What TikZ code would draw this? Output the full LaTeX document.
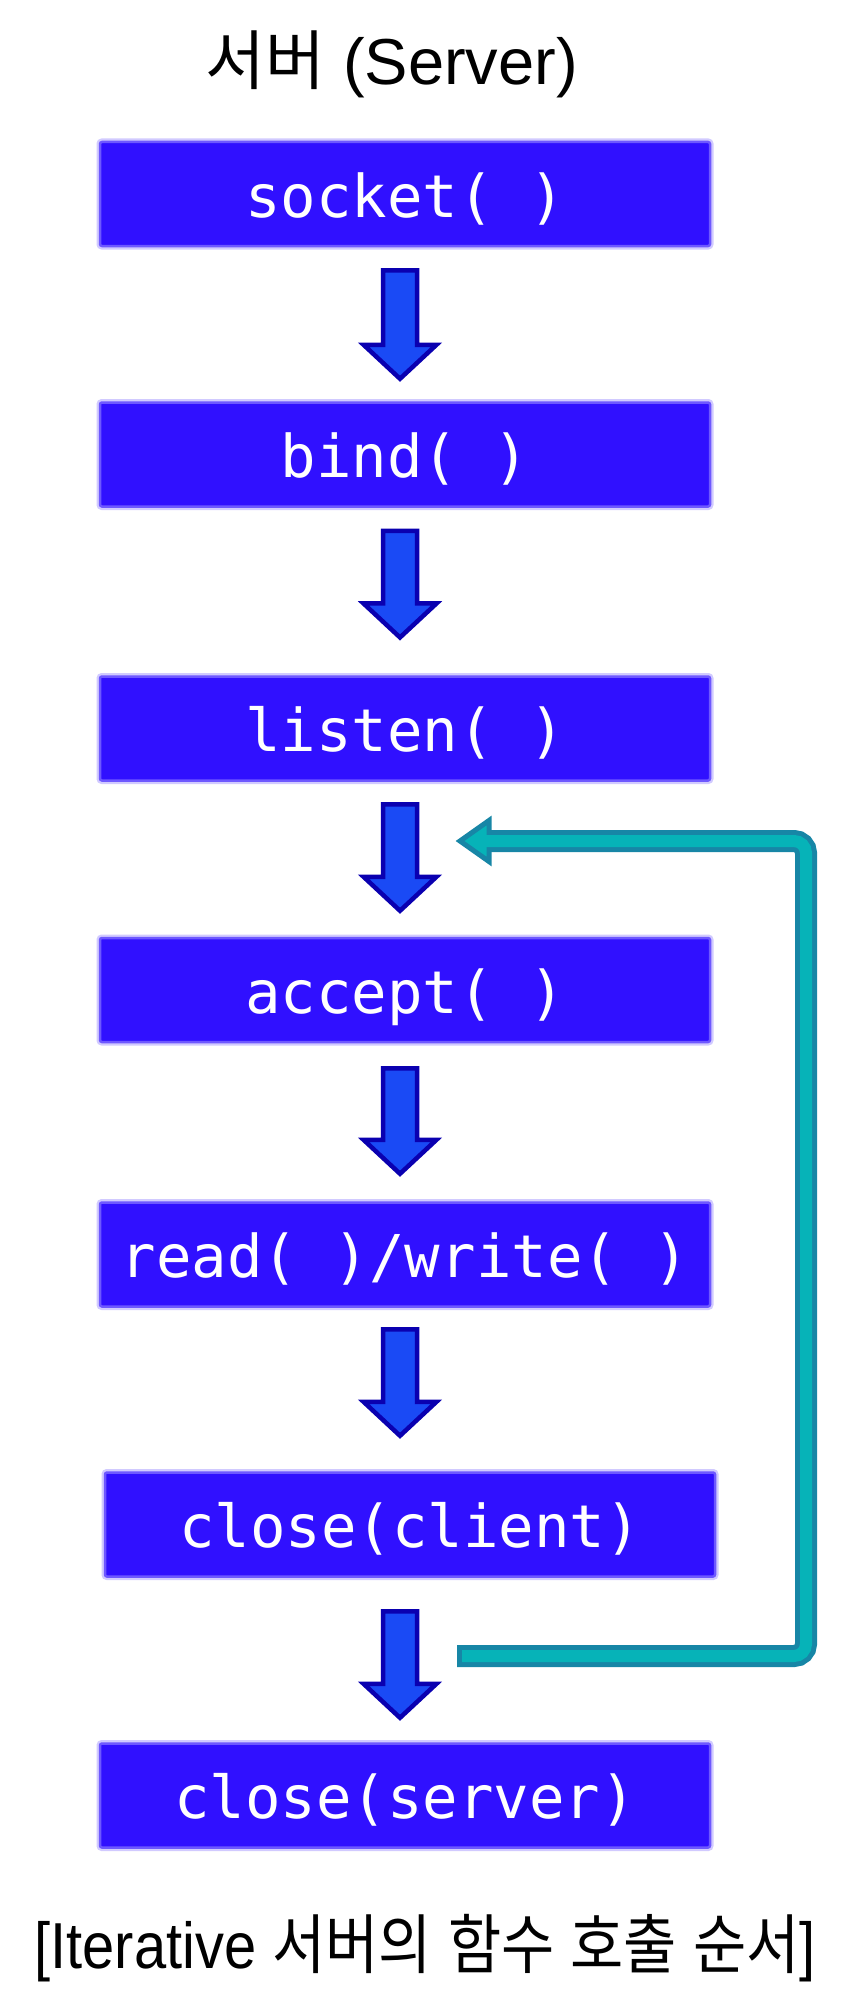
\documentclass[tikz,border=0pt]{standalone}
\usepackage{fontspec}
\usepackage{graphicx}
\setmainfont{Liberation Sans}
\newfontfamily\krfont{Noto Sans CJK KR}
\newfontfamily\codefont{DejaVu Sans Mono}
\usetikzlibrary{calc}
\definecolor{boxc}{HTML}{3010FF}
\definecolor{arrfill}{HTML}{1A4AF5}
\definecolor{arrline}{HTML}{0A00B0}
\definecolor{tealf}{HTML}{06B3B8}
\definecolor{tealb}{HTML}{1786A6}
\newcommand\blkarr[4]{%
  \coordinate (bt) at ($(axis |- #1.south)+(0,#3)$);
  \coordinate (bh) at ($(axis |- #2.north)+(0,-#4)$);
  \draw[blkarrow] ($(bt)+(-17,2)$) -- ($(bt)+(17,2)$) -- ($(bh)+(17,-37)$) -- ($(bh)+(36.5,-37)$) -- ($(bh)+(0,-3)$) -- ($(bh)+(-36.5,-37)$) -- ($(bh)+(-17,-37)$) -- cycle;}
\begin{document}
\begin{tikzpicture}[x=1pt,y=-1pt,
  fnbox/.style={fill=boxc, draw=boxc!70!white, line width=2.5pt,
    preaction={draw=boxc!22!white, line width=7pt},
    rounded corners=2pt, minimum width=610pt, minimum height=104pt,
    inner sep=0pt, text=white, font=\codefont\fontsize{59}{59}\selectfont,
    text height=52pt, text depth=6pt},
  blkarrow/.style={fill=arrfill, draw=arrline, line width=4.5pt, line join=miter},
  ]
\useasboundingbox (0,0) rectangle (865,2012);
\coordinate (axis) at (400,0);
\coordinate (rc) at (806,0);

\node[anchor=base, font=\fontsize{65}{65}\selectfont] (title) at (391.7,85) {{\krfont 서버} (Server)};

\node[fnbox] (s1) at (405,194) {socket(\ )};
\node[fnbox] (s2) at (405,454.5) {bind(\ )};
\node[fnbox] (s3) at (405,728.5) {listen(\ )};
\node[fnbox] (s4) at (405,990) {accept(\ )};
\node[fnbox] (s5) at (405,1254.5) {read(\ )/write(\ )};
\node[fnbox] (s6) at (410,1524.5) {close(client)};
\node[fnbox] (s7) at (405,1795.5) {close(server)};

\blkarr{s1}{s2}{21}{19.5}
\blkarr{s2}{s3}{21}{34.8}
\blkarr{s3}{s4}{20.5}{23}
\blkarr{s4}{s5}{23}{24.5}
\blkarr{s5}{s6}{19.5}{32.5}
\blkarr{s6}{s7}{31.5}{21.5}

% loop arrow
\coordinate (ls) at (457,1656);
\coordinate (le) at (456,841);
\draw[tealb, line width=22pt, rounded corners=12pt] (ls) -- (ls -| rc) -- (le -| rc) -- ($(le)+(34,0)$);
\draw[fill=tealf, draw=tealb, line width=5pt, line join=miter] ($(le)+(33,-20.5)$) -- ($(le)+(4,0)$) -- ($(le)+(33,20.5)$) -- cycle;
\draw[tealf, line width=12pt, rounded corners=12pt] ($(ls)+(5,0)$) -- (ls -| rc) -- (le -| rc) -- ($(le)+(30,0)$);

\node[anchor=base] (cap) at (425,1968) {\scalebox{0.89}[1]{\fontsize{65}{65}\selectfont [Iterative {\krfont 서버의} {\krfont 함수} {\krfont 호출} {\krfont 순서}]}};
\end{tikzpicture}
\end{document}
